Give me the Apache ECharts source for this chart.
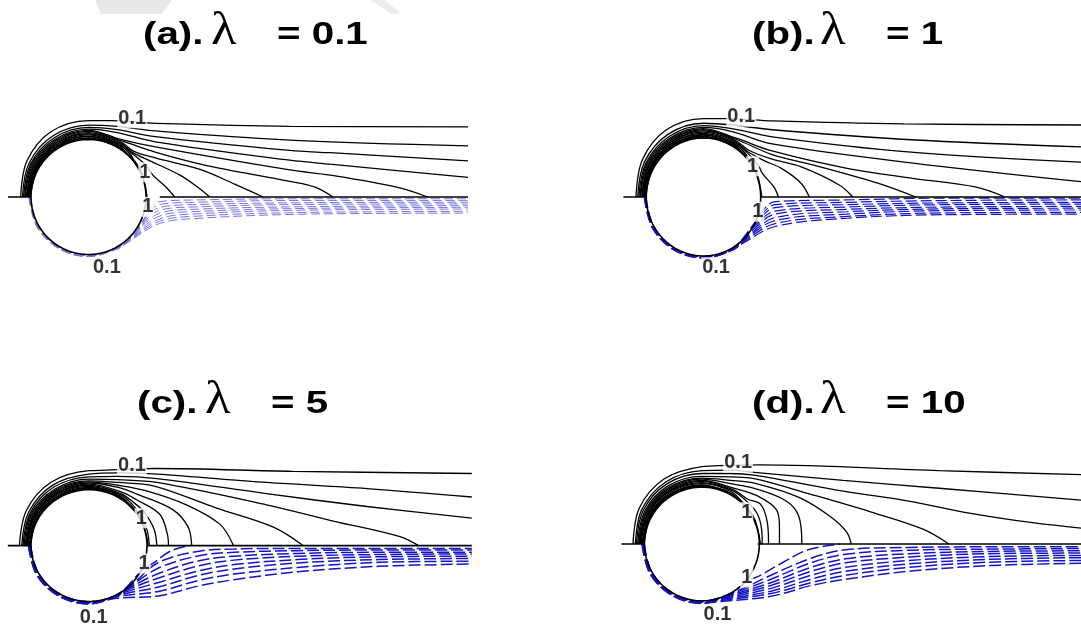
<!DOCTYPE html>
<html>
<head>
<meta charset="utf-8">
<script src="https://cdn.jsdelivr.net/npm/echarts@6/dist/echarts.min.js"></script>
<style>
html,body{margin:0;padding:0;background:#fff}
#chart{width:1081px;height:635px}
</style>
</head>
<body>
<div id="chart"></div>
<script>
// Contours around a cylinder of unit radius centred at the origin.
// "arc" points are [angle in degrees, radius]; "pts" are [x, y].

// ---------- (a) lambda = 0.1 ----------
const upperA = [
  {arc: [[180,1.18],[150,1.24],[120,1.31],[90,1.33]], pts: [[0.4,1.33],[0.76,1.31],[1.19,1.28],[3.5,1.23],[6.6,1.22]]},
  {arc: [[180,1.15],[150,1.19],[120,1.23],[90,1.25]], pts: [[0.5,1.23],[1.16,1.15],[3.5,0.99],[6.6,0.89]]},
  {arc: [[180,1.13],[150,1.16],[120,1.19],[90,1.21]], pts: [[0.5,1.17],[1.16,1.05],[3.5,0.81],[4.2,0.77],[6.6,0.63]]},
  {arc: [[180,1.11],[150,1.14],[120,1.16],[90,1.18]], pts: [[0.5,1.12],[1.16,0.96],[3.5,0.64],[4.2,0.57],[6.6,0.34]]},
  {arc: [[180,1.10],[150,1.12],[120,1.14],[90,1.16],[60,1.15]], pts: [[1.16,0.87],[3.5,0.47],[4.2,0.38],[5.36,0.17],[5.9,0]]},
  {arc: [[180,1.08],[150,1.10],[120,1.12],[90,1.14],[60,1.13]], pts: [[1.16,0.78],[2.0,0.56],[3.5,0.27],[3.94,0.17],[4.25,0]]},
  {arc: [[180,1.07],[150,1.09],[120,1.10],[90,1.12],[60,1.11],[45,1.12]], pts: [[1.16,0.68],[1.94,0.48],[2.55,0.22],[3.04,0]]},
  {arc: [[180,1.06],[150,1.07],[120,1.09],[90,1.10],[60,1.09],[45,1.09]], pts: [[1.09,0.62],[1.59,0.38],[1.90,0.17],[2.11,0]]},
  {arc: [[180,1.05],[150,1.06],[120,1.07],[90,1.08],[60,1.07],[45,1.07]], pts: [[1.0,0.55],[1.12,0.38],[1.33,0.19],[1.50,0]]},
  {arc: [[180,1.04],[150,1.05],[120,1.06],[90,1.06],[60,1.05],[45,1.04],[38,1.0]]},
  {arc: [[180,1.03],[150,1.04],[120,1.04],[90,1.05],[60,1.04],[48,1.0]]},
  {arc: [[180,1.02],[150,1.03],[120,1.03],[90,1.03],[60,1.01],[55,1.0]]},
  {arc: [[180,1.01],[150,1.015],[120,1.02],[90,1.02],[60,1.02],[30,1.02],[0,1.02]]}
];
const lowerA = [
  {arc: [[180,1.005],[210,1.005],[240,1.005],[270,1.005],[300,1.005],[327,1.01]], pts: [[1.24,-0.08],[1.94,-0.05],[3.68,-0.03],[6.6,-0.03]]},
  {arc: [[180,1.009],[210,1.009],[240,1.009],[270,1.009],[300,1.009],[324,1.01]], pts: [[1.24,-0.13],[1.94,-0.09],[3.68,-0.06],[6.6,-0.06]]},
  {arc: [[180,1.013],[210,1.013],[240,1.013],[270,1.013],[300,1.013],[321,1.015]], pts: [[1.24,-0.18],[1.94,-0.13],[3.68,-0.10],[6.6,-0.09]]},
  {arc: [[180,1.017],[210,1.017],[240,1.017],[270,1.017],[300,1.017],[318,1.02]], pts: [[1.24,-0.23],[1.94,-0.17],[3.68,-0.13],[6.6,-0.12]]},
  {arc: [[180,1.021],[210,1.021],[240,1.021],[270,1.021],[300,1.021],[316,1.02]], pts: [[1.24,-0.28],[1.94,-0.21],[3.68,-0.17],[6.6,-0.15]]},
  {arc: [[180,1.025],[210,1.025],[240,1.025],[270,1.025],[300,1.025],[314,1.03]], pts: [[1.24,-0.33],[1.94,-0.25],[3.68,-0.20],[6.6,-0.18]]},
  {arc: [[180,1.029],[210,1.029],[240,1.029],[270,1.029],[300,1.029],[312,1.03]], pts: [[1.24,-0.38],[1.94,-0.29],[3.68,-0.23],[6.6,-0.21]]},
  {arc: [[180,1.033],[210,1.033],[240,1.033],[270,1.033],[300,1.033],[310,1.035]], pts: [[1.24,-0.42],[1.94,-0.33],[3.68,-0.27],[6.6,-0.25]]},
  {arc: [[180,1.037],[210,1.037],[240,1.037],[270,1.037],[300,1.037],[308,1.04]], pts: [[1.24,-0.46],[1.94,-0.37],[3.68,-0.30],[6.6,-0.28]]}
];
const labelsA = [['0.1',0.76,1.37],['1',0.98,0.43],['1',1.03,-0.17],['0.1',0.32,-1.23]];
const axisA = [[-1.4,-1.0],[1.24,6.6]];

// ---------- (b) lambda = 1 ----------
const upperB = [
  {arc: [[180,1.18],[150,1.24],[120,1.31],[90,1.33]], pts: [[0.4,1.33],[0.66,1.32],[1.2,1.29],[3.5,1.24],[6.6,1.22]]},
  {arc: [[180,1.15],[150,1.19],[120,1.23],[90,1.25]], pts: [[0.5,1.22],[1.2,1.14],[3.63,0.97],[6.6,0.85]]},
  {arc: [[180,1.13],[150,1.16],[120,1.19],[90,1.21]], pts: [[0.5,1.16],[1.2,1.02],[3.63,0.76],[6.6,0.59]]},
  {arc: [[180,1.11],[150,1.14],[120,1.16],[90,1.18]], pts: [[0.5,1.11],[1.2,0.90],[3.63,0.58],[6.6,0.26]]},
  {arc: [[180,1.10],[150,1.12],[120,1.14],[90,1.16],[60,1.15]], pts: [[1.2,0.78],[2.49,0.49],[3.63,0.32],[4.75,0.17],[5.27,0]]},
  {arc: [[180,1.08],[150,1.10],[120,1.12],[90,1.14],[60,1.13]], pts: [[1.2,0.72],[1.93,0.54],[3.06,0.23],[3.71,0]]},
  {arc: [[180,1.07],[150,1.09],[120,1.10],[90,1.12],[60,1.11],[45,1.12]], pts: [[1.2,0.64],[1.71,0.51],[2.38,0.20],[2.61,0]]},
  {arc: [[180,1.06],[150,1.07],[120,1.09],[90,1.10],[60,1.09],[45,1.09]], pts: [[1.05,0.62],[1.37,0.48],[1.71,0.23],[1.85,0]]},
  {arc: [[180,1.05],[150,1.06],[120,1.07],[90,1.08],[60,1.07],[45,1.07]], pts: [[0.95,0.55],[1.03,0.40],[1.23,0.17],[1.31,0]]},
  {arc: [[180,1.04],[150,1.05],[120,1.06],[90,1.06],[60,1.05],[45,1.04],[38,1.0]]},
  {arc: [[180,1.03],[150,1.04],[120,1.04],[90,1.05],[60,1.04],[48,1.0]]},
  {arc: [[180,1.02],[150,1.03],[120,1.03],[90,1.03],[60,1.01],[55,1.0]]},
  {arc: [[180,1.01],[150,1.015],[120,1.02],[90,1.02],[60,1.02],[30,1.02],[0,1.02]]}
];
const lowerB = [
  {arc: [[180,1.005],[210,1.005],[240,1.005],[270,1.005],[300,1.005],[330,1.01],[342,1.02]], pts: [[1.25,-0.08],[2.5,-0.05],[4.2,-0.02],[6.6,-0.02]]},
  {arc: [[180,1.009],[210,1.009],[240,1.009],[270,1.009],[300,1.009],[338,1.02]], pts: [[1.25,-0.13],[2.5,-0.09],[4.2,-0.06],[6.6,-0.05]]},
  {arc: [[180,1.013],[210,1.013],[240,1.013],[270,1.013],[300,1.013],[334,1.02]], pts: [[1.25,-0.18],[2.5,-0.13],[4.2,-0.10],[6.6,-0.09]]},
  {arc: [[180,1.017],[210,1.017],[240,1.017],[270,1.017],[300,1.017],[330,1.02]], pts: [[1.25,-0.24],[2.5,-0.17],[4.2,-0.13],[6.6,-0.12]]},
  {arc: [[180,1.021],[210,1.021],[240,1.021],[270,1.021],[300,1.021],[326,1.025]], pts: [[1.25,-0.29],[2.5,-0.21],[4.2,-0.17],[6.6,-0.16]]},
  {arc: [[180,1.025],[210,1.025],[240,1.025],[270,1.025],[300,1.025],[322,1.03]], pts: [[1.25,-0.35],[2.5,-0.25],[4.2,-0.20],[6.6,-0.19]]},
  {arc: [[180,1.029],[210,1.029],[240,1.029],[270,1.029],[300,1.029],[318,1.03]], pts: [[1.25,-0.40],[2.5,-0.29],[4.2,-0.23],[6.6,-0.22]]},
  {arc: [[180,1.033],[210,1.033],[240,1.033],[270,1.033],[300,1.033],[314,1.035]], pts: [[1.25,-0.45],[2.5,-0.33],[4.2,-0.27],[6.6,-0.26]]},
  {arc: [[180,1.037],[210,1.037],[240,1.037],[270,1.037],[300,1.037],[310,1.04]], pts: [[1.25,-0.50],[2.5,-0.36],[4.2,-0.30],[6.6,-0.29]]}
];
const labelsB = [['0.1',0.66,1.36],['1',0.86,0.52],['1',0.95,-0.25],['0.1',0.22,-1.19]];
const axisB = [[-1.4,-1.0],[1.0,6.6]];

// ---------- (c) lambda = 5 ----------
const upperC = [
  {arc: [[180,1.20],[150,1.25],[120,1.31],[90,1.34]], pts: [[0.3,1.35],[0.74,1.37],[1.14,1.38],[3.51,1.33],[6.6,1.29]]},
  {arc: [[180,1.16],[150,1.20],[120,1.25],[90,1.28]], pts: [[0.5,1.30],[1.17,1.28],[3.06,1.13],[4.79,1.02],[6.6,0.87]]},
  {arc: [[180,1.14],[150,1.17],[120,1.21],[90,1.23]], pts: [[0.5,1.24],[1.17,1.20],[3.06,0.93],[4.79,0.70],[6.6,0.49]]},
  {arc: [[180,1.12],[150,1.15],[120,1.17],[90,1.19]], pts: [[0.5,1.18],[1.17,1.13],[3.06,0.73],[4.21,0.44],[5.36,0.16],[5.68,0]]},
  {arc: [[180,1.10],[150,1.13],[120,1.15],[90,1.16]], pts: [[0.5,1.13],[1.11,1.07],[2.20,0.67],[3.18,0.33],[3.69,0]]},
  {arc: [[180,1.09],[150,1.11],[120,1.13],[90,1.14]], pts: [[0.5,1.08],[0.99,0.98],[1.68,0.73],[2.26,0.38],[2.49,0]]},
  {arc: [[180,1.08],[150,1.09],[120,1.11],[90,1.12]], pts: [[0.5,1.04],[0.88,0.90],[1.45,0.64],[1.71,0.33],[1.77,0]]},
  {arc: [[180,1.07],[150,1.08],[120,1.09],[90,1.10],[60,1.11]], pts: [[0.82,0.82],[1.22,0.56],[1.35,0.21],[1.37,0]]},
  {arc: [[180,1.06],[150,1.07],[120,1.08],[90,1.08],[60,1.08],[45,1.09]], pts: [[0.95,0.60],[1.12,0.30],[1.17,0]]},
  {arc: [[180,1.05],[150,1.05],[120,1.06],[90,1.06],[60,1.06],[45,1.05],[30,1.04],[15,1.04],[0,1.04]]},
  {arc: [[180,1.03],[150,1.04],[120,1.04],[90,1.04],[60,1.04],[40,1.0]]},
  {arc: [[180,1.02],[150,1.025],[120,1.03],[90,1.03],[60,1.02],[50,1.0]]},
  {arc: [[180,1.01],[150,1.015],[120,1.015],[90,1.02],[60,1.02],[30,1.02],[0,1.02]]}
];
const lowerC = [
  {arc: [[180,1.005],[210,1.005],[240,1.005],[270,1.005],[300,1.005],[335,1.02]], pts: [[1.1,-0.32],[1.4,-0.10],[1.72,0]]},
  {arc: [[180,1.01],[210,1.01],[240,1.01],[270,1.01],[300,1.01],[318,1.02]], pts: [[1.2,-0.30],[1.9,-0.10],[2.5,-0.06],[3.6,-0.05],[5.0,-0.05],[6.6,-0.05]]},
  {arc: [[180,1.015],[210,1.015],[240,1.015],[270,1.015],[300,1.015],[315,1.02]], pts: [[1.2,-0.40],[1.9,-0.18],[2.5,-0.12],[3.6,-0.09],[5.0,-0.08],[6.6,-0.08]]},
  {arc: [[180,1.02],[210,1.02],[240,1.02],[270,1.02],[300,1.02],[312,1.025]], pts: [[1.2,-0.50],[1.9,-0.27],[2.5,-0.19],[3.6,-0.14],[5.0,-0.12],[6.6,-0.12]]},
  {arc: [[180,1.025],[210,1.025],[240,1.025],[270,1.025],[300,1.025],[309,1.03]], pts: [[1.2,-0.58],[1.9,-0.36],[2.5,-0.26],[3.6,-0.19],[5.0,-0.16],[6.6,-0.15]]},
  {arc: [[180,1.03],[210,1.03],[240,1.03],[270,1.03],[300,1.03],[306,1.035]], pts: [[1.2,-0.66],[1.9,-0.45],[2.5,-0.34],[3.6,-0.25],[5.0,-0.20],[6.6,-0.19]]},
  {arc: [[180,1.035],[210,1.035],[240,1.035],[270,1.035],[303,1.04]], pts: [[1.2,-0.74],[1.9,-0.53],[2.5,-0.42],[3.6,-0.31],[5.0,-0.25],[6.6,-0.23]]},
  {arc: [[180,1.04],[210,1.04],[240,1.04],[270,1.04],[300,1.045]], pts: [[1.2,-0.82],[1.9,-0.62],[2.5,-0.51],[3.6,-0.39],[5.0,-0.30],[6.6,-0.28]]},
  {arc: [[180,1.045],[210,1.045],[240,1.045],[270,1.045],[296,1.05]], pts: [[1.2,-0.90],[1.9,-0.72],[2.5,-0.61],[3.6,-0.47],[5.0,-0.37],[6.6,-0.33]]}
];
const labelsC = [['0.1',0.74,1.44],['1',0.90,0.49],['1',0.95,-0.32],['0.1',0.08,-1.28]];
const axisC = [[-1.4,-1.0],[1.0,6.6]];

// ---------- (d) lambda = 10 ----------
const upperD = [
  {arc: [[180,1.20],[150,1.26],[120,1.32],[90,1.36]], pts: [[0.4,1.38],[0.99,1.39],[4.13,1.29],[6.6,1.22]]},
  {arc: [[180,1.16],[150,1.21],[120,1.26],[90,1.29]], pts: [[0.5,1.30],[0.91,1.26],[2.46,1.12],[4.13,0.98],[6.6,0.77]]},
  {arc: [[180,1.14],[150,1.18],[120,1.22],[90,1.24]], pts: [[0.5,1.24],[0.91,1.21],[2.46,0.93],[3.57,0.76],[4.68,0.54],[5.79,0.37],[6.6,0.28]]},
  {arc: [[180,1.12],[150,1.15],[120,1.18],[90,1.19]], pts: [[0.5,1.18],[0.91,1.15],[1.91,0.87],[3.02,0.54],[3.85,0.26],[4.30,0]]},
  {arc: [[180,1.10],[150,1.13],[120,1.15],[90,1.16]], pts: [[0.5,1.12],[0.91,1.07],[1.69,0.82],[2.24,0.48],[2.52,0.21],[2.60,0]]},
  {arc: [[180,1.09],[150,1.11],[120,1.13],[90,1.14]], pts: [[0.5,1.06],[0.91,0.98],[1.46,0.76],[1.69,0.48],[1.74,0]]},
  {arc: [[180,1.08],[150,1.09],[120,1.11],[90,1.12],[60,1.13]], pts: [[0.96,0.85],[1.30,0.60],[1.35,0.30],[1.35,0]]},
  {arc: [[180,1.07],[150,1.08],[120,1.09],[90,1.10],[60,1.10],[45,1.12]], pts: [[1.02,0.70],[1.14,0.37],[1.16,0]]},
  {arc: [[180,1.06],[150,1.07],[120,1.08],[90,1.08],[60,1.08],[45,1.08]], pts: [[0.96,0.54],[1.04,0.25],[1.05,0]]},
  {arc: [[180,1.04],[150,1.05],[120,1.06],[90,1.06],[60,1.05],[40,1.0]]},
  {arc: [[180,1.03],[150,1.04],[120,1.04],[90,1.04],[60,1.03],[50,1.0]]},
  {arc: [[180,1.02],[150,1.025],[120,1.03],[90,1.03],[60,1.01],[55,1.0]]},
  {arc: [[180,1.01],[150,1.015],[120,1.015],[90,1.02],[60,1.02],[30,1.02],[0,1.02]]}
];
const lowerD = [
  {arc: [[180,1.005],[210,1.005],[240,1.005],[270,1.005],[300,1.005],[320,1.02]], pts: [[1.0,-0.56],[1.4,-0.33],[1.85,-0.10],[2.41,0]]},
  {arc: [[180,1.01],[210,1.01],[240,1.01],[270,1.01],[305,1.02]], pts: [[1.2,-0.55],[1.9,-0.25],[2.5,-0.10],[3.6,-0.06],[5.0,-0.05],[6.6,-0.05]]},
  {arc: [[180,1.015],[210,1.015],[240,1.015],[270,1.015],[302,1.02]], pts: [[1.2,-0.62],[1.9,-0.33],[2.5,-0.18],[3.6,-0.11],[5.0,-0.09],[6.6,-0.08]]},
  {arc: [[180,1.02],[210,1.02],[240,1.02],[270,1.02],[299,1.025]], pts: [[1.2,-0.68],[1.9,-0.41],[2.5,-0.26],[3.6,-0.17],[5.0,-0.13],[6.6,-0.12]]},
  {arc: [[180,1.025],[210,1.025],[240,1.025],[270,1.025],[296,1.03]], pts: [[1.2,-0.73],[1.9,-0.48],[2.5,-0.33],[3.6,-0.23],[5.0,-0.17],[6.6,-0.16]]},
  {arc: [[180,1.03],[210,1.03],[240,1.03],[270,1.03],[293,1.035]], pts: [[1.2,-0.78],[1.9,-0.55],[2.5,-0.41],[3.6,-0.29],[5.0,-0.22],[6.6,-0.20]]},
  {arc: [[180,1.035],[210,1.035],[240,1.035],[270,1.035],[290,1.04]], pts: [[1.2,-0.83],[1.9,-0.62],[2.5,-0.48],[3.6,-0.35],[5.0,-0.27],[6.6,-0.24]]},
  {arc: [[180,1.04],[210,1.04],[240,1.04],[270,1.04],[287,1.045]], pts: [[1.2,-0.87],[1.9,-0.68],[2.5,-0.55],[3.6,-0.41],[5.0,-0.32],[6.6,-0.29]]},
  {arc: [[180,1.045],[210,1.045],[240,1.045],[270,1.045],[284,1.05]], pts: [[1.2,-0.92],[1.9,-0.73],[2.5,-0.62],[3.6,-0.48],[5.0,-0.38],[6.6,-0.34]]}
];
const labelsD = [['0.1',0.63,1.43],['1',0.78,0.56],['1',0.78,-0.59],['0.1',0.27,-1.24]];
const axisD = [[-1.4,-1.0],[0.97,6.6]];

// panel captions: label, symbol, value
const captions = [['(a).','\u03bb','= 0.1'],['(b).','\u03bb','= 1'],['(c).','\u03bb','= 5'],['(d).','\u03bb','= 10']];

// ---------- layout and styling ----------
const panels = [
  {upper: upperA, lower: lowerA, labels: labelsA, axis: axisA, grid: {left: 8, top: 105, width: 460, height: 184},
   blue: '#7676de', blueWidth: 1, dash: [9, 4], cap: {x: 143, y: 35}},
  {upper: upperB, lower: lowerB, labels: labelsB, axis: axisB, grid: {left: 623.4, top: 102.6, width: 472, height: 188.8},
   blue: '#1414c4', blueWidth: 1.2, dash: [11, 4], cap: {x: 752, y: 35}},
  {upper: upperC, lower: lowerC, labels: labelsC, axis: axisC, grid: {left: 7.8, top: 456.2, width: 464, height: 185.6},
   blue: '#1414c4', blueWidth: 1.5, dash: [12, 4], cap: {x: 137, y: 404}},
  {upper: upperD, lower: lowerD, labels: labelsD, axis: axisD, grid: {left: 621.5, top: 453, width: 480, height: 192},
   blue: '#1414c4', blueWidth: 1.5, dash: [12, 4], cap: {x: 752, y: 404}}
];

const RAD = Math.PI / 180;
function contourPoints(c) {
  const out = [];
  (c.arc || []).forEach(function (p) { out.push([p[1] * Math.cos(p[0] * RAD), p[1] * Math.sin(p[0] * RAD)]); });
  (c.pts || []).forEach(function (p) { out.push(p); });
  return out;
}
// outline of the cylinder (unit circle)
function bodyOutline() {
  const out = [];
  for (let d = 0; d <= 360; d += 3) out.push([Math.cos(d * RAD), Math.sin(d * RAD)]);
  return out;
}

const boldFont = 'bold 31px "Liberation Sans", Arial, sans-serif';
const grids = [], xAxes = [], yAxes = [], series = [], graphics = [];

// faint grey marks along the top edge of the sheet
graphics.push({type: 'polygon', shape: {points: [[95, 0], [172, 0], [162, 14], [101, 14]]},
  style: {fill: '#e8e8e8'}, z: 0});
graphics.push({type: 'polygon', shape: {points: [[370, 0], [384, 0], [401, 13], [392, 14]]},
  style: {fill: '#ececec'}, z: 0});

panels.forEach(function (p, i) {
  grids.push(Object.assign({containLabel: false}, p.grid));
  xAxes.push({type: 'value', gridIndex: i, min: -1.4, max: 6.6, show: false});
  yAxes.push({type: 'value', gridIndex: i, min: -1.6, max: 1.6, show: false});
  const base = {type: 'line', xAxisIndex: i, yAxisIndex: i, showSymbol: false, symbol: 'none',
                silent: true, animation: false, clip: true};
  p.lower.forEach(function (c) {
    series.push(Object.assign({}, base, {data: contourPoints(c), smooth: 0.35, z: 2,
      lineStyle: {color: p.blue, width: p.blueWidth, type: p.dash}}));
  });
  p.upper.forEach(function (c) {
    series.push(Object.assign({}, base, {data: contourPoints(c), smooth: 0.35, z: 3,
      lineStyle: {color: '#000', width: 1.3}}));
  });
  p.axis.forEach(function (seg) {
    series.push(Object.assign({}, base, {data: [[seg[0], 0], [seg[1], 0]], z: 4,
      lineStyle: {color: '#000', width: 1.6}}));
  });
  series.push(Object.assign({}, base, {data: bodyOutline(), z: 5, lineStyle: {color: '#000', width: 1.6}}));
  series.push({type: 'scatter', xAxisIndex: i, yAxisIndex: i, silent: true, animation: false, z: 10,
    symbolSize: 1, itemStyle: {color: 'rgba(0,0,0,0)'},
    data: p.labels.map(function (l) { return {value: [l[1], l[2]], name: l[0]}; }),
    label: {show: true, position: 'inside', formatter: '{b}', color: '#000', fontSize: 20, fontWeight: 'bold',
      fontFamily: 'Liberation Sans, Arial, sans-serif', backgroundColor: '#fff', padding: [0, 1]}});

  const cap = captions[i];
  graphics.push({type: 'text', x: p.cap.x, y: p.cap.y, scaleX: 1.3,
    style: {text: cap[0], font: boldFont, fill: '#000', verticalAlign: 'middle'}});
  graphics.push({type: 'text', x: p.cap.x + 68, y: p.cap.y - 3, scaleX: 1.15,
    style: {text: cap[1], font: '46px "Liberation Serif", "Times New Roman", serif', fill: '#000', verticalAlign: 'middle'}});
  graphics.push({type: 'text', x: p.cap.x + 134, y: p.cap.y, scaleX: 1.3,
    style: {text: cap[2], font: boldFont, fill: '#000', verticalAlign: 'middle'}});
});

const chart = echarts.init(document.getElementById('chart'), null, {renderer: 'canvas'});
chart.setOption({
  backgroundColor: '#fff',
  animation: false,
  grid: grids,
  xAxis: xAxes,
  yAxis: yAxes,
  series: series,
  graphic: graphics
});
</script>
</body>
</html>
